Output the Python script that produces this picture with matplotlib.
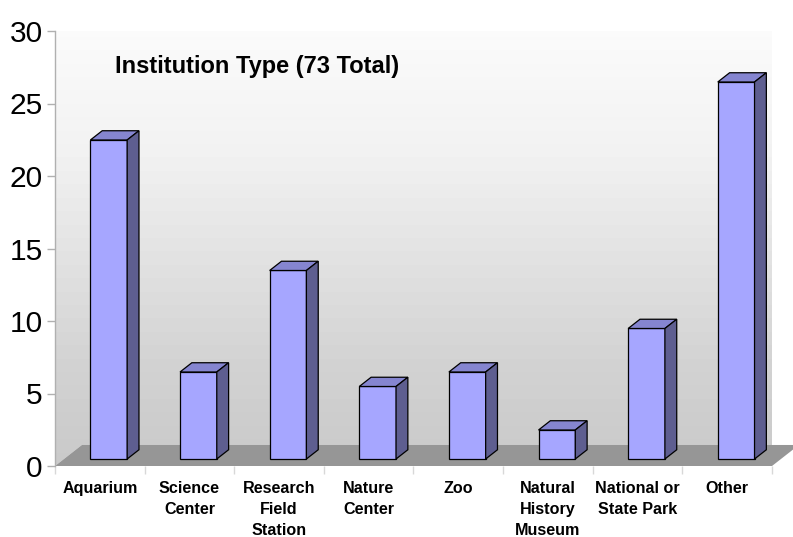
import numpy as np
import matplotlib
matplotlib.use("Agg")
import matplotlib.pyplot as plt
from matplotlib.patches import Polygon

# data
categories = ["Aquarium", "Science\nCenter", "Research\nField\nStation", "Nature\nCenter",
              "Zoo", "Natural\nHistory\nMuseum", "National or\nState Park", "Other"]
counts = [22, 6, 13, 5, 6, 2, 9, 26]
title = "Institution Type (73 Total)"
y_ticks = [0, 5, 10, 15, 20, 25, 30]

plt.rcParams['font.family'] = ['Liberation Sans', 'DejaVu Sans']

# 3d-look geometry (in data units)
depth_x, depth_y = 0.30, 1.45      # floor depth offset
bar_pos, bar_depth = 1/3, 0.44     # where the bar sits in the depth and how deep it is
bar_w = 0.41
n = len(categories)
ymax = 30

front = "#a6a6ff"
top_c = "#8585d0"
side_c = "#5e5e90"

fig = plt.figure(figsize=(7.93, 5.37), dpi=100)
ax = fig.add_axes([55/793, 71/537, 717/793, 435/537])
ax.set_xlim(0, n)
ax.set_ylim(0, ymax)

# walls with banded gradient
wall = Polygon([(0, 0), (depth_x, depth_y), (n + depth_x, depth_y), (n + depth_x, ymax + depth_y),
                (depth_x, ymax + depth_y), (0, ymax)], closed=True, facecolor="none", edgecolor="none")
ax.add_patch(wall)
t = np.linspace(0, 1, 34)
shade = np.interp(t, [0, 0.3, 0.78, 1.0], [252, 243, 211, 202]) / 255.0
grad = np.repeat(shade[:, None], 2, axis=1)
grad = np.dstack([grad, grad, grad])
im = ax.imshow(grad, extent=[0, n + depth_x, 0, ymax + depth_y], aspect="auto",
               interpolation="nearest", zorder=0, origin="upper")
im.set_clip_box(None)
im.set_clip_path(wall)
ax.set_xlim(0, n)
ax.set_ylim(0, ymax)

# floor
floor = Polygon([(0, 0), (n, 0), (n + depth_x, depth_y), (depth_x, depth_y)], closed=True,
                facecolor="#969696", edgecolor="none", zorder=1, clip_on=False)
ax.add_patch(floor)

# bars
base = bar_pos * depth_y
ddx, ddy = bar_depth * depth_x, bar_depth * depth_y
xs = np.arange(n) + 0.5 + bar_pos * depth_x
ax.bar(xs, counts, width=bar_w, bottom=base, color=front, edgecolor="black",
       linewidth=0.9, zorder=3, clip_on=False)
for x, v in zip(xs, counts):
    x0, x1 = x - bar_w / 2, x + bar_w / 2
    top = base + v
    ax.add_patch(Polygon([(x0, top), (x1, top), (x1 + ddx, top + ddy), (x0 + ddx, top + ddy)],
                         closed=True, facecolor=top_c, edgecolor="black", linewidth=0.9,
                         zorder=3, clip_on=False))
    ax.add_patch(Polygon([(x1, base), (x1 + ddx, base + ddy), (x1 + ddx, top + ddy), (x1, top)],
                         closed=True, facecolor=side_c, edgecolor="black", linewidth=0.9,
                         zorder=3, clip_on=False))

# axes
for s in ["top", "right", "bottom"]:
    ax.spines[s].set_visible(False)
ax.spines["left"].set_color("#b0b0b0")
ax.spines["left"].set_linewidth(1.0)
ax.set_yticks(y_ticks)
ax.tick_params(axis="y", length=6, width=1, color="#b0b0b0", labelsize=21.5, pad=3)

ax.set_xticks(np.arange(n + 1))
ax.set_xticklabels([])
ax.tick_params(axis="x", length=6, width=1, color="#d8d8d8")
ax.set_xticks(np.arange(n) + 0.5, minor=True)
ax.set_xticklabels(categories, minor=True, fontsize=11.6, fontweight="bold", linespacing=1.5,
                   va="top")
ax.tick_params(axis="x", which="minor", length=0, pad=11)

fig.text(115/793, 1 - 67/537, title, fontsize=17, fontweight="bold", va="center", ha="left")

fig.savefig("out.png", dpi=100)
